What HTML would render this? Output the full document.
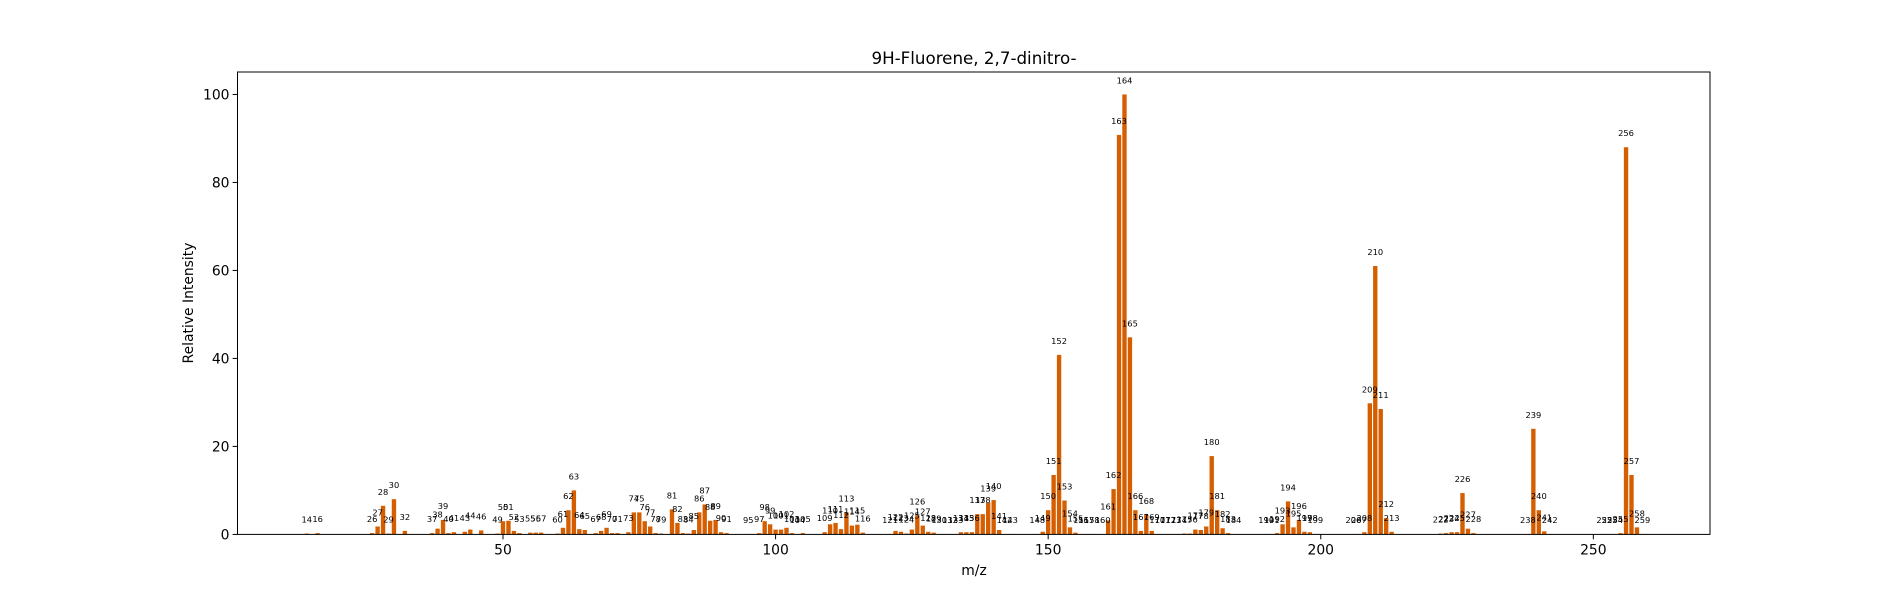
<!DOCTYPE html>
<html><head><meta charset="utf-8"><style>
html,body{margin:0;padding:0;background:#fff;}
svg{display:block;font-family:"DejaVu Sans","Liberation Sans",sans-serif;}
</style></head><body>
<svg id="chart" width="1900" height="600" viewBox="0 0 1900 600" xmlns="http://www.w3.org/2000/svg">
<rect width="1900" height="600" fill="#fff"/>
<text x="974" y="64" font-size="16.7" text-anchor="middle" fill="#000">9H-Fluorene, 2,7-dinitro-</text>
<g id="bars"></g>
<g id="labels"></g>
<g id="axes"></g>
<text x="974" y="575" font-size="13.9" text-anchor="middle">m/z</text>
<text transform="translate(193,303) rotate(-90)" font-size="13.9" text-anchor="middle">Relative Intensity</text>
</svg>
<script>
const mzValues = [14,16,26,27,28,29,30,32,37,38,39,40,41,43,44,46,49,50,51,52,53,55,56,57,60,61,62,63,64,65,67,68,69,70,71,73,74,75,76,77,78,79,81,82,83,84,85,86,87,88,89,90,91,95,97,98,99,100,101,102,103,104,105,109,110,111,112,113,114,115,116,121,122,123,124,125,126,127,128,129,130,132,133,134,135,136,137,138,139,140,141,142,143,148,149,150,151,152,153,154,155,156,157,158,160,161,162,163,164,165,166,167,168,169,170,171,172,173,174,175,176,177,178,179,180,181,182,183,184,190,191,192,193,194,195,196,197,198,199,206,207,208,209,210,211,212,213,222,223,224,225,226,227,228,238,239,240,241,242,252,253,254,255,256,257,258,259];
const intensities = [0.2,0.3,0.3,1.8,6.5,0.2,8,0.8,0.3,1.3,3.3,0.3,0.5,0.6,1.1,0.9,0.2,3.0,3.1,0.8,0.3,0.4,0.4,0.4,0.2,1.5,5.5,10,1.2,1,0.3,0.8,1.5,0.3,0.3,0.5,5,5,3,1.8,0.3,0.2,5.7,2.6,0.3,0.2,1,5,6.8,3.1,3.3,0.5,0.3,0.1,0.3,3,2.3,1.1,1.1,1.5,0.3,0.1,0.3,0.5,2.3,2.6,1.2,5,2,2.2,0.4,0.1,0.8,0.6,0.2,1.1,4.3,2,0.6,0.4,0.1,0.1,0.1,0.5,0.5,0.5,4.6,4.6,7.2,7.8,1,0.1,0.1,0.1,0.6,5.5,13.5,40.8,7.7,1.6,0.4,0.1,0.1,0.1,0.1,3.2,10.3,90.8,100,44.8,5.5,0.8,4.4,0.8,0.1,0.1,0.1,0.1,0.1,0.2,0.2,1.1,1,1.8,17.8,5.5,1.4,0.3,0.1,0.1,0.1,0.3,2.3,7.5,1.6,3.3,0.6,0.5,0.1,0.1,0.1,0.5,29.8,61,28.5,3.7,0.6,0.2,0.3,0.5,0.5,9.4,1.3,0.3,0.1,24,5.5,0.7,0.1,0.1,0.1,0.1,0.3,88,13.5,1.6,0.1];
const xTicks = [50,100,150,200,250];
const yTicks = [0,20,40,60,80,100];

const L=237.5,R=1710,T=72,B=534.4, XMIN=1.3, XMAX=271.4, YMAX=105.1;
const NS='http://www.w3.org/2000/svg';
function xs(v){return L+(v-XMIN)/(XMAX-XMIN)*(R-L);}
function ys(v){return B-v/YMAX*(B-T);}
function mk(tag,attrs,parent){const e=document.createElementNS(NS,tag);for(const k in attrs)e.setAttribute(k,attrs[k]);parent.appendChild(e);return e;}
const bars=document.getElementById('bars'),labels=document.getElementById('labels'),axes=document.getElementById('axes');
const bw=0.8*(R-L)/(XMAX-XMIN);
mzValues.forEach((m,i)=>{
  const v=intensities[i];
  const r=mk('rect',{x:xs(m)-bw/2,y:ys(v),width:bw,height:B-ys(v),fill:'#d55e00'},bars);
  
  
  const t=mk('text',{x:xs(m),y:ys(v)-11,'font-size':'8.3','text-anchor':'middle',fill:'#000'},labels);
  t.textContent=m;
  
  
});
const frame=mk('rect',{x:L,y:T,width:R-L,height:B-T,fill:'none',stroke:'#000','stroke-width':1},axes);


xTicks.forEach(v=>{
  const x=xs(v);
  mk('line',{x1:x,x2:x,y1:B,y2:B+4.9,stroke:'#000'},axes);
  const t=mk('text',{x:x,y:B+20,'font-size':'13.9','text-anchor':'middle'},axes);
  t.textContent=v;
  
  
});
yTicks.forEach(v=>{
  const y=ys(v);
  mk('line',{x1:L-4.9,x2:L,y1:y,y2:y,stroke:'#000'},axes);
  const t=mk('text',{x:L-8,y:y+5,'font-size':'13.9','text-anchor':'end'},axes);
  t.textContent=v;
  
  
});
</script>
</body></html>
